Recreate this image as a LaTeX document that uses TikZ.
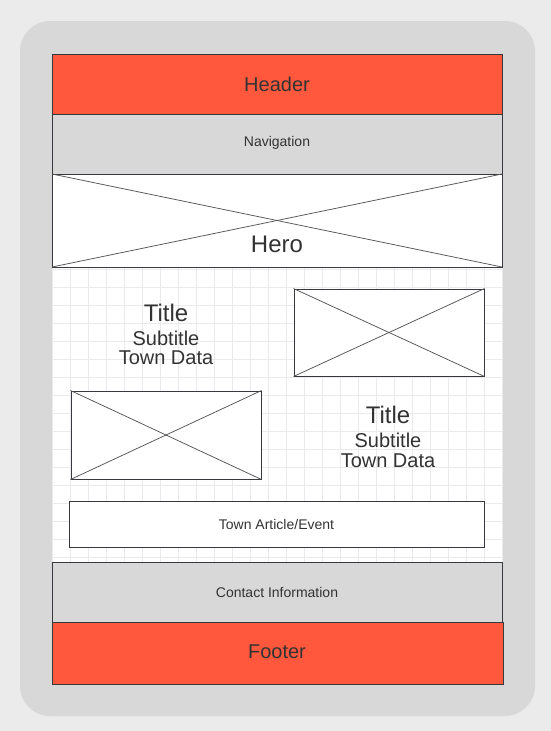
\documentclass[tikz,border=0pt]{standalone}
\usepackage{fontspec}
\setmainfont{Liberation Sans}
\begin{document}
\begin{tikzpicture}[x=1pt,y=-1pt,
  frame/.style={draw=framecol,line width=1pt},
  redblock/.style={frame,fill=redfill},
  grayblock/.style={frame,fill=grayfill},
  whiteblock/.style={frame,fill=white},
  cross/.style={draw=crosscol,line width=0.75pt},
  gridline/.style={draw=gridcol,line width=0.8pt},
  lbl/.style={text=txtcol,inner sep=0pt,anchor=center},
]
\definecolor{framecol}{HTML}{36393D}
\definecolor{redfill}{HTML}{FF583D}
\definecolor{grayfill}{HTML}{D8D8D8}
\definecolor{pagebg}{HTML}{EBEBEB}
\definecolor{devicecol}{HTML}{D8D8D8}
\definecolor{crosscol}{HTML}{555555}
\definecolor{gridcol}{HTML}{EAEAEA}
\definecolor{txtcol}{HTML}{333333}
\newcommand{\fs}[1]{\fontsize{#1}{#1}\selectfont}

% page and device body
\fill[pagebg] (0,0) rectangle (551,731);
\useasboundingbox (0,0) rectangle (551,731);
\fill[devicecol,rounded corners=30pt] (20,21) rectangle (535,716);

% content area with background grid
\fill[white] (52,267) rectangle (502,562);
\foreach \gx in {52,70,...,502} \draw[gridline] (\gx,267) -- (\gx,562);
\foreach \gy in {269,287,...,557} \draw[gridline] (52,\gy) -- (502,\gy);

% header and navigation
\path[redblock] (52,54) rectangle (502,114);
\node[lbl,font=\fs{20}] (header) at (277,84) {Header};
\path[grayblock] (52,114) rectangle (502,174);
\node[lbl,font=\fs{14}] (nav) at (277,143) {Navigation};

% hero image placeholder
\path[whiteblock] (52,174) rectangle (502,267);
\coordinate (h1) at (52,174); \coordinate (h2) at (502,174);
\coordinate (h3) at (502,267); \coordinate (h4) at (52,267);
\draw[cross] (h1) -- (h3);
\draw[cross] (h2) -- (h4);
\node[lbl,font=\fs{24}] (hero) at (277,244) {Hero};

% first row: text block and image
\node[lbl,font=\fs{24}] (t1) at (166,313) {Title};
\node[lbl,font=\fs{20}] (s1) at (166,338) {Subtitle};
\node[lbl,font=\fs{20}] (d1) at (166,358) {Town Data};
\node[whiteblock,minimum width=190pt,minimum height=87pt,inner sep=0pt] (img1) at (389,332.5) {};
\draw[cross] (img1.north west) -- (img1.south east);
\draw[cross] (img1.north east) -- (img1.south west);

% second row: image and text block
\node[whiteblock,minimum width=190pt,minimum height=88pt,inner sep=0pt] (img2) at (166,435) {};
\draw[cross] (img2.north west) -- (img2.south east);
\draw[cross] (img2.north east) -- (img2.south west);
\node[lbl,font=\fs{24}] (t2) at (388,415) {Title};
\node[lbl,font=\fs{20}] (s2) at (388,440) {Subtitle};
\node[lbl,font=\fs{20}] (d2) at (388,461) {Town Data};

% article strip
\node[whiteblock,minimum width=415pt,minimum height=46pt,inner sep=0pt,text=txtcol,font=\fs{14}] (article) at (276.5,524) {Town Article/Event};

% contact and footer
\path[grayblock] (52,562) rectangle (502,622);
\node[lbl,font=\fs{14}] (contact) at (277,592) {Contact Information};
\path[redblock] (52,622) rectangle (503,684);
\node[lbl,font=\fs{20}] (footer) at (277,652) {Footer};
\end{tikzpicture}
\end{document}
